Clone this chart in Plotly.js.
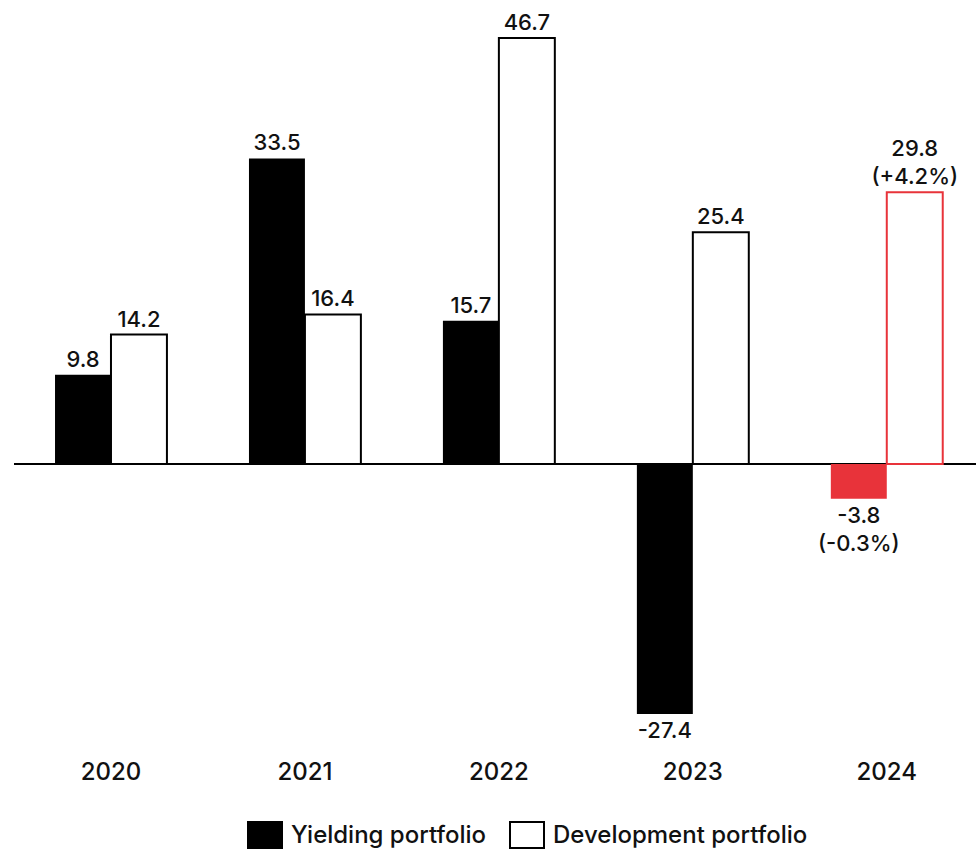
<!DOCTYPE html>
<html>
<head>
<meta charset="utf-8">
<script src="https://cdn.plot.ly/plotly-3.0.1.min.js"></script>
<style>
  html, body { margin: 0; padding: 0; background: #fff; }
  #chart { width: 976px; height: 851px; }
</style>
</head>
<body>
<div id="chart"></div>
<script>
// Portfolio values by year
const years = ['2020', '2021', '2022', '2023', '2024'];
const yielding = [9.8, 33.5, 15.7, -27.4, -3.8];
const development = [14.2, 16.4, 46.7, 25.4, 29.8];
// Percentage change shown under the latest values
const yieldingPct = [null, null, null, null, '-0.3%'];
const developmentPct = [null, null, null, null, '+4.2%'];

const BLACK = '#000000';
const RED = '#e8333a';
const FONT = 'Inter, "Noto Sans", sans-serif';

const latest = years.length - 1;
const colorFor = i => (i === latest ? RED : BLACK);

function labels(values, pct) {
  return values.map((v, i) => {
    const s = v.toFixed(1);
    return pct[i] ? s + '<br>(' + pct[i] + ')' : s;
  });
}

const textFont = { family: FONT, size: 22, color: '#111111', weight: 500 };

const traces = [
  {
    type: 'bar',
    name: 'Yielding portfolio',
    x: years,
    y: yielding,
    text: labels(yielding, yieldingPct),
    textposition: 'outside',
    constraintext: 'none',
    textfont: textFont,
    cliponaxis: false,
    hoverinfo: 'skip',
    marker: {
      color: years.map((_, i) => colorFor(i)),
      line: { color: years.map((_, i) => colorFor(i)), width: 0 }
    }
  },
  {
    type: 'bar',
    name: 'Development portfolio',
    x: years,
    y: development,
    text: labels(development, developmentPct),
    textposition: 'outside',
    constraintext: 'none',
    textfont: textFont,
    cliponaxis: false,
    hoverinfo: 'skip',
    marker: {
      color: '#ffffff',
      line: { color: years.map((_, i) => colorFor(i)), width: 2 }
    }
  }
];

// Legend drawn as boxes with labels beneath the plot
const legendItems = [
  { label: 'Yielding portfolio', fill: BLACK, x0: 248 },
  { label: 'Development portfolio', fill: '#ffffff', x0: 510 }
];
const L = 14, T = 20, PW = 962, PH = 735;
const px = x => (x - L) / PW;
const py = y => (T + PH - y) / PH;

const shapes = [];
const annotations = [];
legendItems.forEach(item => {
  shapes.push({
    type: 'rect', xref: 'paper', yref: 'paper',
    x0: px(item.x0), x1: px(item.x0 + 34),
    y0: py(848), y1: py(822),
    fillcolor: item.fill,
    line: { color: BLACK, width: 2 }
  });
  annotations.push({
    xref: 'paper', yref: 'paper',
    x: px(item.x0 + 41), y: py(835),
    xanchor: 'left', yanchor: 'middle',
    text: item.label, showarrow: false,
    font: { family: FONT, size: 24, color: '#111111', weight: 500 }
  });
});

const layout = {
  width: 976,
  height: 851,
  margin: { l: L, r: 976 - L - PW, t: T, b: 851 - T - PH, pad: 0 },
  paper_bgcolor: '#ffffff',
  plot_bgcolor: '#ffffff',
  barmode: 'group',
  bargap: 0.423,
  bargroupgap: 0,
  showlegend: false,
  xaxis: {
    type: 'category',
    range: [-0.5, 4.46],
    showgrid: false,
    showline: false,
    zeroline: false,
    ticks: '',
    tickfont: { family: FONT, size: 24, color: '#111111', weight: 500 },
    fixedrange: true
  },
  yaxis: {
    range: [-31.9, 48.68],
    showgrid: false,
    showline: false,
    showticklabels: false,
    ticks: '',
    zeroline: true,
    zerolinecolor: BLACK,
    zerolinewidth: 2.5,
    fixedrange: true
  },
  shapes: shapes,
  annotations: annotations
};

Plotly.newPlot('chart', traces, layout, { displayModeBar: false, staticPlot: true });
</script>
</body>
</html>
